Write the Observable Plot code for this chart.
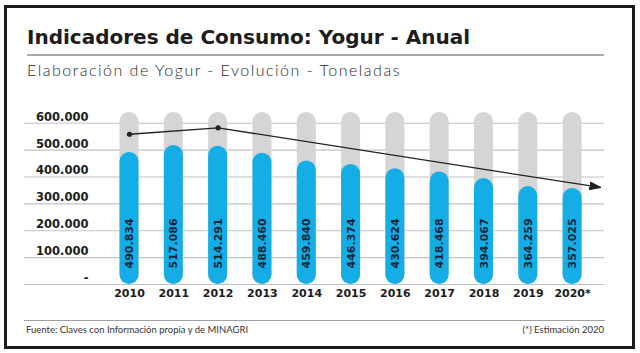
<!DOCTYPE html>
<html><head><meta charset="utf-8">
<script src="https://cdn.jsdelivr.net/npm/d3@7"></script>
<script src="https://cdn.jsdelivr.net/npm/@observablehq/plot@0.6"></script>
<style>
html,body{margin:0;padding:0;background:#fff;width:640px;height:353px;overflow:hidden;position:relative;font-family:Lato,"Open Sans",sans-serif}
#frame{position:absolute;left:4px;top:5px;width:625px;height:338px;border:3px solid #1b1b1b}
#title{position:absolute;left:27px;top:27px;font-family:"DejaVu Sans",sans-serif;font-weight:700;font-size:20px;line-height:1;color:#1c1c1c;white-space:nowrap}
#rule1{position:absolute;left:27px;top:54px;width:577px;height:1.5px;background:#aaa}
#subtitle{position:absolute;left:27px;top:62px;font-weight:300;font-size:16px;letter-spacing:1.5px;line-height:1;color:#2a2a2a;white-space:nowrap}
#chart{position:absolute;left:0;top:100px}
#rule2{position:absolute;left:24px;top:319.5px;width:581px;height:1px;background:#a0a0a0}
.foot{position:absolute;top:324.6px;font-size:9.5px;line-height:1;color:#333;white-space:nowrap}
#src{left:26px}
#note{right:36px}
</style></head>
<body>
<div id="frame"></div>
<div id="title">Indicadores de Consumo: Yogur - Anual</div>
<div id="rule1"></div>
<div id="subtitle">Elaboración de Yogur - Evolución - Toneladas</div>
<div id="chart"></div>
<div id="rule2"></div>
<div class="foot" id="src">Fuente: Claves con Información propia y de MINAGRI</div>
<div class="foot" id="note">(*) Estimación 2020</div>
<script>
const years = [2010, 2011, 2012, 2013, 2014, 2015, 2016, 2017, 2018, 2019, 2020];
const yearLabels = ["2010", "2011", "2012", "2013", "2014", "2015", "2016", "2017", "2018", "2019", "2020*"];
const values = [490834, 517086, 514291, 488460, 459840, 446374, 430624, 418468, 394067, 364259, 357025];
const valueLabels = ["490.834", "517.086", "514.291", "488.460", "459.840", "446.374", "430.624", "418.468", "394.067", "364.259", "357.025"];
const backgroundValue = 640000;
const yTicks = [0, 100000, 200000, 300000, 400000, 500000, 600000];
const yTickLabels = ["-", "100.000", "200.000", "300.000", "400.000", "500.000", "600.000"];
const trendYears = [2010, 2012, 2020.63];
const trendValues = [559000, 583000, 361000];

const bars = years.map((year, i) => ({year, value: values[i], label: valueLabels[i]}));
const trend = trendYears.map((year, i) => ({year, value: trendValues[i]}));

function arrowHead(color) {
  return d3.create("svg:marker")
    .attr("viewBox", "0 -4 11 8")
    .attr("refX", 11).attr("refY", 0)
    .attr("markerWidth", 11).attr("markerHeight", 8)
    .attr("markerUnits", "userSpaceOnUse")
    .attr("orient", "auto")
    .call(m => m.append("path").attr("d", "M0,-3.8L11,0L0,3.8Z").attr("fill", color))
    .node();
}

const inset = 12.65;
const chartFont = "'DejaVu Sans', sans-serif";
const chart = Plot.plot({
  width: 640, height: 205,
  marginLeft: 24, marginRight: 36, marginTop: 12, marginBottom: 21,
  style: {fontFamily: chartFont, background: "transparent"},
  x: {type: "linear", domain: [2007.63, 2020.72]},
  y: {domain: [0, 640000]},
  marks: [
    Plot.ruleY(yTicks, {stroke: "#c2c2c2", strokeWidth: 1.2}),
    Plot.rect(bars, {x1: d => d.year - 0.5, x2: d => d.year + 0.5, y1: 0, y2: () => backgroundValue, fill: "#d5d5d5", rx: 9.5, insetLeft: inset, insetRight: inset}),
    Plot.rect(bars, {x1: d => d.year - 0.5, x2: d => d.year + 0.5, y1: 0, y2: "value", fill: "#15ade6", rx: 9.5, insetLeft: inset, insetRight: inset}),
    Plot.text(bars, {x: "year", y: 0, text: "label", rotate: -90, textAnchor: "start", dy: -16, fontWeight: 700, fontSize: 11, fill: "#13263a"}),
    Plot.line(trend, {x: "year", y: "value", stroke: "#222", strokeWidth: 1.3, markerEnd: arrowHead}),
    Plot.dot(trend.slice(0, 2), {x: "year", y: "value", r: 2.6, fill: "#222"}),
    Plot.axisX(years, {tickSize: 0, tickPadding: 5, fontSize: 11, fontWeight: 700, fill: "#1c1c1c", tickFormat: d => yearLabels[years.indexOf(d)], label: null}),
    Plot.axisY(yTicks, {anchor: "left", tickSize: 0, tickPadding: 0, dx: 64, dy: -6.3, fontSize: 11.5, fontWeight: 700, fill: "#1c1c1c", tickFormat: d => yTickLabels[yTicks.indexOf(d)], label: null})
  ]
});
document.getElementById("chart").appendChild(chart);
</script>
</body></html>
